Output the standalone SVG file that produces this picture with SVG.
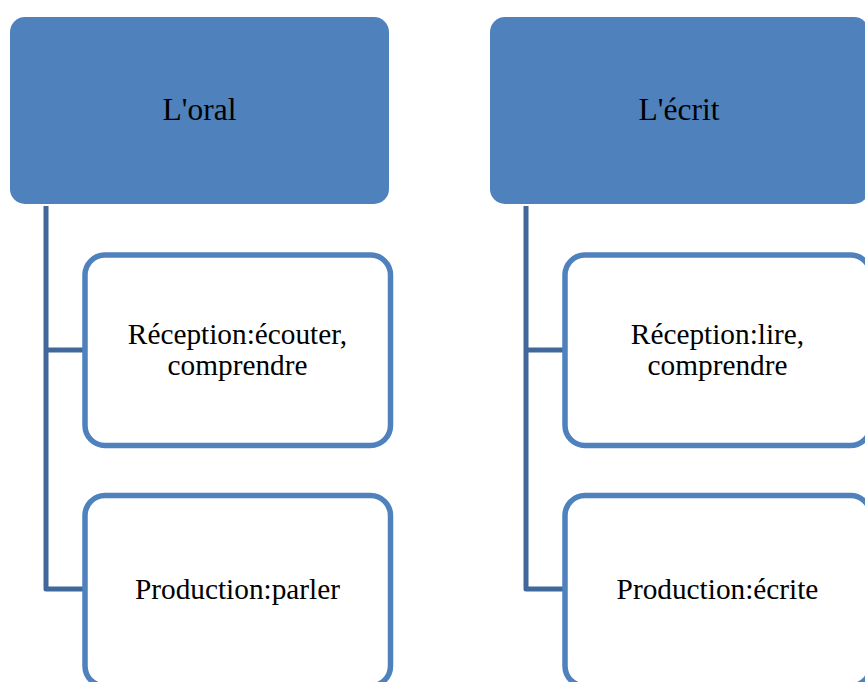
<svg xmlns="http://www.w3.org/2000/svg" width="865" height="682" viewBox="0 0 865 682">
<style>
.top{fill:#4f81bd;stroke:none}
.child{fill:#ffffff;stroke:#4f81bd;stroke-width:5.5}
.conn{fill:none;stroke:#41689a;stroke-width:5;stroke-linejoin:round}
.t{font-family:"Liberation Serif","Times New Roman",serif;fill:#000000;text-anchor:middle}
.tt{font-size:31.5px}
.ct{font-size:29.3px}
</style>
<rect width="865" height="682" fill="#ffffff"/>
<g id="connectors">
<path class="conn" d="M46,206 V589 H85 M46,350 H85"/>
<path class="conn" d="M526,206 V589 H565 M526,350 H565"/>
</g>
<g id="oral">
<rect class="top" x="10" y="17" width="379" height="187" rx="15" ry="15"/>
<text class="t tt" x="199.5" y="120">L'oral</text>
</g>
<g id="oral-reception">
<rect class="child" x="85" y="255" width="305.5" height="190.5" rx="20" ry="20"/>
<text class="t ct" x="237.5" y="344">Réception:écouter,</text>
<text class="t ct" x="237.5" y="375">comprendre</text>
</g>
<g id="oral-production">
<rect class="child" x="85" y="495.5" width="305.5" height="190.5" rx="20" ry="20"/>
<text class="t ct" x="237.5" y="599">Production:parler</text>
</g>
<g id="ecrit">
<rect class="top" x="490" y="17" width="379" height="187" rx="15" ry="15"/>
<text class="t tt" x="679" y="120">L'écrit</text>
</g>
<g id="ecrit-reception">
<rect class="child" x="565" y="255" width="305.5" height="190.5" rx="20" ry="20"/>
<text class="t ct" x="717.5" y="344">Réception:lire,</text>
<text class="t ct" x="717.5" y="375">comprendre</text>
</g>
<g id="ecrit-production">
<rect class="child" x="565" y="495.5" width="305.5" height="190.5" rx="20" ry="20"/>
<text class="t ct" x="717.5" y="599">Production:écrite</text>
</g>
</svg>
